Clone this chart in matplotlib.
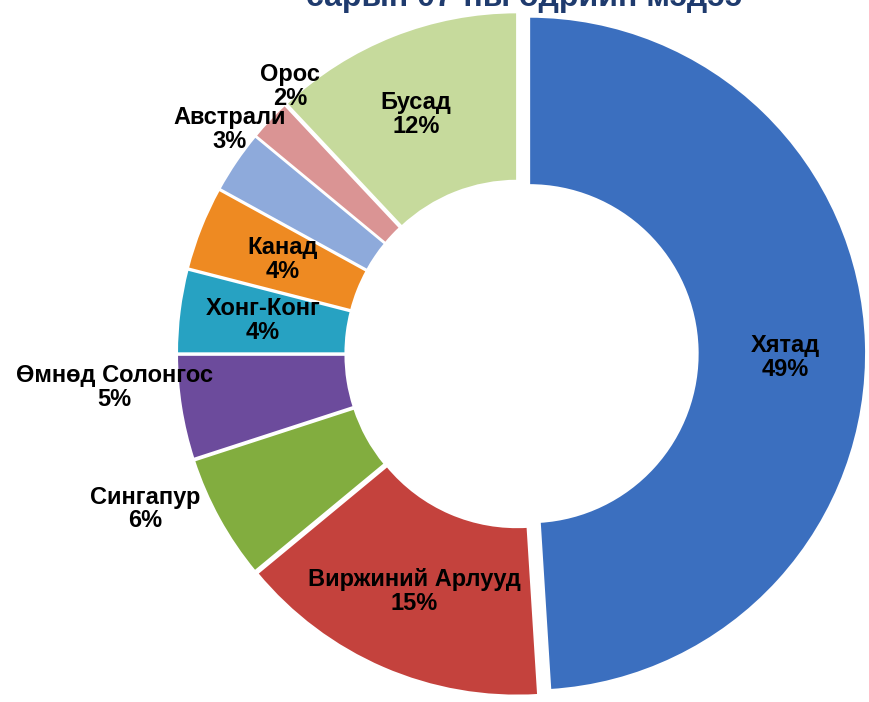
import matplotlib
matplotlib.use("Agg")
import matplotlib.pyplot as plt
import numpy as np

categories = ["Хятад", "Виржиний Арлууд", "Сингапур", "Өмнөд Солонгос",
              "Хонг-Конг", "Канад", "Австрали", "Орос", "Бусад"]
values = [49, 15, 6, 5, 4, 4, 3, 2, 12]
colors = ["#3b6fbf", "#c4423d", "#82ad3f", "#6c4b9c", "#27a2c2",
          "#ee8a22", "#8eaadb", "#da9494", "#c6da9c"]
explode = [0.03, 0.015, 0.015, 0.015, 0.015, 0.015, 0.015, 0.015, 0.015]
# label positions in radius units relative to centre
label_pos = [(0.79, -0.01), (-0.31, -0.705), (-1.11, -0.46), (-1.2, -0.10),
             (-0.76, 0.10), (-0.70, 0.28), (-0.86, 0.665), (-0.68, 0.795), (-0.305, 0.71)]

W, H = 869, 702
cx, cy, R = 519, 354, 337
fig = plt.figure(figsize=(W / 100, H / 100), dpi=100)
ax = fig.add_axes([0, 0, 1, 1])

wedges, _ = ax.pie(values, colors=colors, startangle=90, counterclock=False,
                   explode=explode, radius=1.0,
                   wedgeprops=dict(width=0.5, edgecolor="white", linewidth=1.5))
ax.set_xlim(-cx / R, (W - cx) / R)
ax.set_ylim(-(H - cy) / R, cy / R)
ax.set_aspect("equal")
ax.axis("off")

for name, v, (x, y) in zip(categories, values, label_pos):
    ax.text(x, y, f"{name}\n{v}%", ha="center", va="center",
            fontsize=17, fontweight="bold", family="Liberation Sans",
            color="black", linespacing=1.05)

fig.text(0.603, 1 - 6 / H, "сарын 07-ны өдрийн мэдээ", ha="center", va="baseline",
         fontsize=23, fontweight="bold", family="Liberation Sans", color="#1f3b6e")

fig.savefig("out.png", dpi=100)
